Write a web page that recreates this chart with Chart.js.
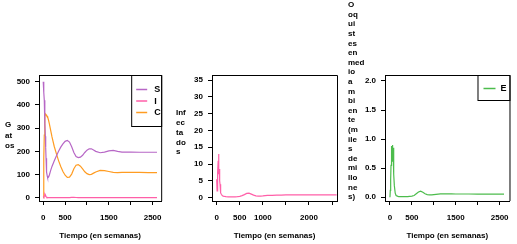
<!DOCTYPE html>
<html>
<head>
<meta charset="utf-8">
<script src="https://cdn.jsdelivr.net/npm/chart.js@4/dist/chart.umd.min.js"></script>
<style>
  html, body { margin: 0; padding: 0; background: #fff; }
  body { width: 517px; height: 244px; position: relative; overflow: hidden; }
  canvas { position: absolute; top: 0; }
</style>
</head>
<body>
<canvas id="chart-gatos" width="170" height="244" style="left:0px"></canvas>
<canvas id="chart-infectados" width="175" height="244" style="left:170px"></canvas>
<canvas id="chart-ambiente" width="172" height="244" style="left:345px"></canvas>
<script>
// ---- data (weeks since start of the simulation) ----
const weeks = [0, 8, 16, 24, 32, 40, 48, 56, 64, 72, 80, 90, 100, 120, 140, 170, 200,
  250, 300, 350, 400, 450, 500, 550, 600, 650, 700, 750, 800, 850, 900, 950, 1000,
  1050, 1100, 1150, 1200, 1300, 1400, 1500, 1600, 1700, 1800, 2000, 2200, 2400, 2600];

const gatosS = [500, 480, 455, 420, 375, 320, 265, 215, 170, 135, 110, 95, 87, 88, 98, 118, 135,
  158, 180, 200, 218, 232, 243, 247, 240, 220, 195, 178, 173, 175, 183, 195, 205,
  211, 211, 206, 200, 194, 197, 202, 204, 200, 197, 197, 196, 196, 196];

const gatosI = [5.5, 2, 4, 7.5, 11, 13, 7, 8.5, 5, 4, 2.2, 1.4, 1.0, 0.6, 0.45, 0.35, 0.3,
  0.25, 0.2, 0.2, 0.25, 0.3, 0.4, 0.6, 0.9, 1.25, 1.35, 1.05, 0.75, 0.55, 0.45, 0.45, 0.5,
  0.6, 0.65, 0.7, 0.7, 0.75, 0.75, 0.8, 0.8, 0.8, 0.8, 0.8, 0.8, 0.8, 0.8];

const gatosC = [0, 60, 170, 270, 330, 352, 358, 360, 358, 356, 354, 352, 348, 335, 318, 290, 262,
  222, 190, 160, 135, 113, 97, 88, 89, 102, 125, 140, 143, 136, 124, 112, 104,
  100, 101, 106, 111, 118, 117, 113, 109, 108, 109, 110, 109, 108, 108];

const ooquistesE = [0, 0.12, 0.3, 0.55, 0.85, 0.88, 0.62, 0.9, 0.72, 0.85, 0.55, 0.4, 0.2, 0.07, 0.03, 0.02, 0.01,
  0.01, 0.01, 0.01, 0.01, 0.015, 0.02, 0.03, 0.06, 0.09, 0.105, 0.085, 0.06, 0.045, 0.04, 0.04, 0.045,
  0.05, 0.055, 0.057, 0.058, 0.058, 0.057, 0.056, 0.056, 0.056, 0.056, 0.055, 0.055, 0.055, 0.055];

// ---- ticks ----
const weekTicks = [0, 500, 1000, 1500, 2000, 2500];
const gatosXLabels = ['0', '500', '', '1500', '', '2500'];
const infXLabels = ['0', '500', '1000', '', '2000', ''];
const ambXLabels = ['0', '500', '', '1500', '', '2500'];
const gatosYTicks = [0, 100, 200, 300, 400, 500];
const infYTicks = [0, 5, 10, 15, 20, 25, 30, 35];
const ambYTicks = [0, 0.5, 1.0, 1.5, 2.0];
const ambYLabels = ['0.0', '0.5', '1.0', '1.5', '2.0'];

const xTitle = 'Tiempo (en semanas)';
const gatosTitle = ['G', 'at', 'os'];
const infTitle = ['Inf', 'ec', 'ta', 'do', 's'];
const ambTitle = ['O', 'oq', 'ui', 'st', 'es', 'en', 'med', 'io', 'a', 'm', 'bi', 'en', 'te',
  '(m', 'ile', 's', 'de', 'mi', 'llo', 'ne', 's)'];

const COLORS = { S: '#b767c6', I: '#ff5fa8', C: '#ff9c22', E: '#4cbc4c' };
const FONT = { family: '"Liberation Sans", Arial, sans-serif', size: 8, weight: 'bold' };

function toPoints(values) {
    return weeks.map((w, i) => ({ x: w, y: values[i] }));
}

// frame (top/right), stacked y title and boxed legend, R-plot style
const framePlugin = {
    id: 'frame',
    afterDraw(chart, args, opts) {
        const { ctx, chartArea: a } = chart;
        ctx.save();
        ctx.strokeStyle = '#000';
        ctx.lineWidth = 1;
        ctx.beginPath();
        ctx.moveTo(a.left, a.top + 0.5);
        ctx.lineTo(a.right + 0.5, a.top + 0.5);
        ctx.lineTo(a.right + 0.5, a.bottom);
        ctx.stroke();

        ctx.fillStyle = '#000';
        ctx.font = 'bold 8px "Liberation Sans", Arial, sans-serif';
        ctx.textBaseline = 'middle';
        ctx.textAlign = 'left';
        opts.title.forEach((line, i) => {
            ctx.fillText(line, opts.titleX, opts.titleY + i * opts.titleStep);
        });

        if (opts.legend) {
            const lg = opts.legend;
            const bx = a.right - lg.width;
            ctx.strokeRect(bx + 0.5, a.top + 0.5, lg.width, lg.height);
            ctx.font = 'bold 9px "Liberation Sans", Arial, sans-serif';
            chart.data.datasets.forEach((ds, i) => {
                const y = a.top + lg.first + i * lg.step;
                ctx.strokeStyle = ds.borderColor;
                ctx.lineWidth = 1.5;
                ctx.beginPath();
                ctx.moveTo(bx + lg.lineFrom, y + 0.5);
                ctx.lineTo(bx + lg.lineTo, y + 0.5);
                ctx.stroke();
                ctx.fillText(ds.label, bx + lg.textX, y + 1);
            });
        }
        ctx.restore();
    }
};

function makeChart(id, cfg) {
    const ctx = document.getElementById(id).getContext('2d');
    return new Chart(ctx, {
        type: 'line',
        data: { datasets: cfg.datasets },
        options: {
            responsive: false,
            animation: false,
            devicePixelRatio: 1,
            layout: { padding: { top: 75, right: cfg.padRight, left: 0, bottom: 0 } },
            elements: {
                point: { radius: 0 },
                line: { borderWidth: 1.2, tension: 0 }
            },
            plugins: {
                legend: { display: false },
                tooltip: { enabled: false },
                frame: cfg.frame
            },
            scales: {
                x: {
                    type: 'linear',
                    min: cfg.xMin, max: cfg.xMax,
                    afterBuildTicks: s => { s.ticks = weekTicks.map(v => ({ value: v })); },
                    afterFit: s => { s.height = 43; },
                    ticks: {
                        autoSkip: false, maxRotation: 0, padding: 8,
                        color: '#000', font: FONT,
                        callback: (v, i) => cfg.xLabels[i]
                    },
                    grid: { drawOnChartArea: false, tickLength: 4, color: '#000' },
                    border: { color: '#000', dash: [1, 1] },
                    title: {
                        display: true, text: xTitle, color: '#000', font: FONT,
                        padding: { top: 0, bottom: 3 }
                    }
                },
                y: {
                    min: cfg.yMin, max: cfg.yMax,
                    afterBuildTicks: s => { s.ticks = cfg.yTicks.map(v => ({ value: v })); },
                    afterFit: s => { s.width = cfg.yWidth; },
                    ticks: {
                        autoSkip: false, padding: 5,
                        color: '#000', font: FONT,
                        callback: (v, i) => cfg.yLabels ? cfg.yLabels[i] : String(v)
                    },
                    grid: { drawOnChartArea: false, tickLength: 4, color: '#000' },
                    border: { color: '#000', dash: [1, 1] }
                }
            }
        },
        plugins: [framePlugin]
    });
}

document.addEventListener('DOMContentLoaded', () => {
    // 1. Gatos: S, I, C
    makeChart('chart-gatos', {
        datasets: [
            { label: 'S', data: toPoints(gatosS), borderColor: COLORS.S },
            { label: 'I', data: toPoints(gatosI), borderColor: COLORS.I },
            { label: 'C', data: toPoints(gatosC), borderColor: COLORS.C }
        ],
        xMin: -97, xMax: 2696, yMin: -14, yMax: 529,
        yTicks: gatosYTicks, xLabels: gatosXLabels,
        yWidth: 39, padRight: 7,
        frame: {
            title: gatosTitle, titleX: 5, titleY: 125, titleStep: 10.5,
            legend: { width: 30, height: 51, first: 14, step: 11.5, lineFrom: 5, lineTo: 16, textX: 23 }
        }
    });

    // 2. Infectados
    makeChart('chart-infectados', {
        datasets: [
            { label: 'I', data: toPoints(gatosI), borderColor: COLORS.I }
        ],
        xMin: -102, xMax: 2608, yMin: -1, yMax: 36.5,
        yTicks: infYTicks, xLabels: infXLabels,
        yWidth: 42, padRight: 8,
        frame: { title: infTitle, titleX: 6, titleY: 113, titleStep: 9.8 }
    });

    // 3. Ooquistes en el ambiente
    makeChart('chart-ambiente', {
        datasets: [
            { label: 'E', data: toPoints(ooquistesE), borderColor: COLORS.E }
        ],
        xMin: -113, xMax: 2725, yMin: -0.064, yMax: 2.103,
        yTicks: ambYTicks, yLabels: ambYLabels, xLabels: ambXLabels,
        yWidth: 40, padRight: 6,
        frame: {
            title: ambTitle, titleX: 3, titleY: 5, titleStep: 9.6,
            legend: { width: 32, height: 25, first: 13, step: 11.5, lineFrom: 6, lineTo: 18, textX: 23 }
        }
    });
});
</script>
</body>
</html>
